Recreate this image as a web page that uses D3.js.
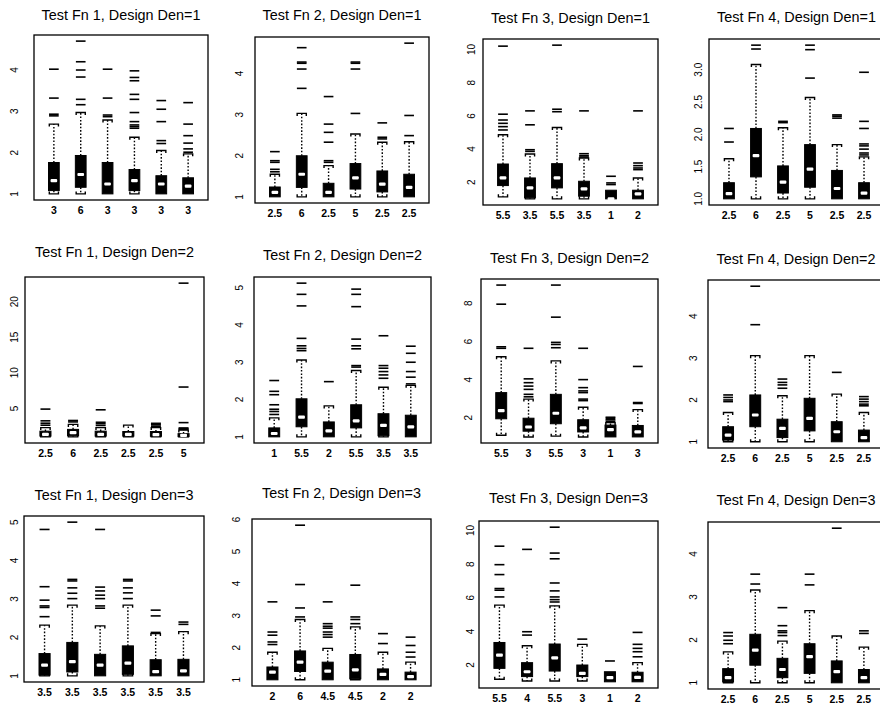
<!DOCTYPE html>
<html>
<head>
<meta charset="utf-8">
<script src="https://cdn.jsdelivr.net/npm/d3@7"></script>
<style>
  body { margin: 0; background: #fff; }
  text { font-family: "Liberation Sans", Arial, Helvetica, sans-serif; fill: #000; }
</style>
</head>
<body>
<svg id="chart" width="880" height="704"></svg>
<script>
// Panel titles, row by row (design density 1..3), columns = test functions 1..4
const titles = [
  "Test Fn 1, Design Den=1", "Test Fn 2, Design Den=1", "Test Fn 3, Design Den=1", "Test Fn 4, Design Den=1",
  "Test Fn 1, Design Den=2", "Test Fn 2, Design Den=2", "Test Fn 3, Design Den=2", "Test Fn 4, Design Den=2",
  "Test Fn 1, Design Den=3", "Test Fn 2, Design Den=3", "Test Fn 3, Design Den=3", "Test Fn 4, Design Den=3"
];

// Box labels along each x axis
const labelsF1D1 = ["3", "6", "3", "3", "3", "3"];
const labelsF2D1 = ["2.5", "6", "2.5", "5", "2.5", "2.5"];
const labelsF3D1 = ["5.5", "3.5", "5.5", "3.5", "1", "2"];
const labelsF4D1 = ["2.5", "6", "2.5", "5", "2.5", "2.5"];
const labelsF1D2 = ["2.5", "6", "2.5", "2.5", "2.5", "5"];
const labelsF2D2 = ["1", "5.5", "2", "5.5", "3.5", "3.5"];
const labelsF3D2 = ["5.5", "3", "5.5", "3", "1", "3"];
const labelsF4D2 = ["2.5", "6", "2.5", "5", "2.5", "2.5"];
const labelsF1D3 = ["3.5", "3.5", "3.5", "3.5", "3.5", "3.5"];
const labelsF2D3 = ["2", "6", "4.5", "4.5", "2", "2"];
const labelsF3D3 = ["5.5", "4", "5.5", "3", "1", "2"];
const labelsF4D3 = ["2.5", "6", "2.5", "5", "2.5", "2.5"];

// Five-number summaries per box: [lower whisker, Q1, median, Q3, upper whisker]
const statsF1D1 = [[1.0,1.08,1.32,1.76,2.69],[1.0,1.16,1.47,1.93,2.97],[1.0,1.0,1.24,1.76,2.79],[1.0,1.08,1.32,1.59,2.37],[1.0,1.0,1.24,1.44,2.05],[1.0,1.0,1.19,1.39,1.97]];
const statsF2D1 = [[1.0,1.0,1.11,1.24,1.55],[1.0,1.23,1.55,2.0,3.03],[1.0,1.0,1.11,1.33,1.76],[1.0,1.19,1.46,1.81,2.53],[1.0,1.12,1.31,1.63,2.33],[1.0,1.0,1.23,1.55,2.34]];
const statsF3D1 = [[1.12,1.8,2.26,3.1,4.86],[1.0,1.06,1.66,2.26,3.7],[1.0,1.66,2.26,3.12,5.3],[1.0,1.16,1.6,2.06,3.46],[1.0,1.0,1.0,1.52,1.52],[1.0,1.0,1.3,1.52,2.26]];
const statsF4D1 = [[1.0,1.0,1.08,1.25,1.62],[1.0,1.34,1.67,2.09,3.08],[1.0,1.09,1.26,1.51,2.1],[1.0,1.18,1.46,1.84,2.57],[1.0,1.0,1.16,1.44,1.84],[1.0,1.0,1.09,1.25,1.65]];
const statsF1D2 = [[1.0,1.1,1.35,1.8,2.3],[1.0,1.15,1.6,2.05,2.75],[1.0,1.1,1.35,1.8,2.3],[1.0,1.1,1.35,1.75,2.65],[1.0,1.08,1.3,1.75,2.3],[1.0,1.03,1.2,1.45,1.95]];
const statsF2D2 = [[1.0,1.0,1.09,1.24,1.51],[1.0,1.27,1.53,2.02,3.06],[1.0,1.0,1.16,1.4,1.83],[1.0,1.24,1.43,1.86,2.78],[1.0,1.03,1.31,1.62,2.33],[1.0,1.0,1.27,1.58,2.38]];
const statsF3D2 = [[1.09,1.95,2.38,3.32,5.2],[1.0,1.3,1.52,1.98,2.98],[1.04,1.69,2.24,3.23,4.98],[1.0,1.26,1.47,1.9,2.55],[1.0,1.0,1.38,1.62,1.75],[1.0,1.0,1.26,1.6,2.43]];
const statsF4D2 = [[1.0,1.04,1.16,1.36,1.7],[1.0,1.36,1.64,2.12,3.06],[1.0,1.1,1.32,1.54,2.1],[1.0,1.26,1.56,2.04,3.06],[1.0,1.0,1.24,1.48,2.14],[1.0,1.0,1.1,1.28,1.7]];
const statsF1D3 = [[1.0,1.02,1.28,1.58,2.32],[1.0,1.1,1.37,1.87,2.84],[1.0,1.0,1.28,1.56,2.3],[1.0,1.04,1.33,1.78,2.84],[1.0,1.0,1.11,1.42,2.1],[1.0,1.0,1.13,1.43,2.15]];
const statsF2D3 = [[1.0,1.0,1.24,1.4,1.86],[1.0,1.26,1.55,1.9,2.88],[1.0,1.0,1.27,1.55,1.98],[1.0,1.03,1.31,1.79,2.65],[1.0,1.0,1.17,1.34,1.86],[1.0,1.0,1.1,1.24,1.55]];
const statsF3D3 = [[1.15,1.8,2.59,3.34,5.56],[1.05,1.31,1.6,2.14,3.15],[1.05,1.64,2.43,3.25,5.52],[1.05,1.31,1.5,2.0,3.23],[1.0,1.0,1.25,1.6,1.6],[1.0,1.0,1.27,1.57,2.14]];
const statsF4D3 = [[1.0,1.02,1.12,1.33,1.72],[1.0,1.41,1.76,2.13,3.16],[1.0,1.12,1.31,1.57,1.97],[1.0,1.22,1.61,1.91,2.68],[1.0,1.0,1.26,1.51,2.09],[1.0,1.0,1.12,1.31,1.83]];

// Outlying values beyond the whiskers, per box
const outF1D1 = [[4.02,3.32,2.93,2.89],[4.70,4.20,4.00,3.83,3.29,3.16],[4.02,3.32,2.91,2.87],[3.98,3.82,3.74,3.41,3.29,2.97,2.75,2.67,2.63,2.59],[3.26,3.05,2.75,2.29,2.22],[3.21,2.69,2.41,2.23,2.09,2.01]];
const outF2D1 = [[2.10,1.88,1.84,1.67,1.61],[4.63,4.28,4.25,4.11,3.64],[3.44,2.77,2.57,2.33,1.88,1.84],[4.28,4.25,4.11,3.03],[2.80,2.45,2.41],[4.74,2.98,2.49]];
const outF3D1 = [[10.2,6.1,5.75,5.55,5.35,5.15],[6.3,5.46,3.96,3.86],[10.26,6.4,6.25],[6.3,3.72,3.6,3.52],[2.36,1.96,1.86],[6.3,3.16,3.0,2.86,2.76]];
const outF4D1 = [[2.09,1.88],[3.38,3.32],[2.2,2.18],[3.38,3.31,2.87],[2.3,2.28,2.25],[2.96,2.2,2.09,1.85,1.82,1.77,1.71,1.68]];
const outF1D2 = [[2.64,2.92,3.25,4.9],[3.1,3.3],[2.6,2.85,3.05,4.8],[],[2.5,2.7,2.9],[2.05,2.15,2.25,3.0,8.0,22.6]];
const outF2D2 = [[2.51,2.22,2.13,1.86,1.74,1.68,1.6],[5.12,4.82,4.51,3.64,3.44,3.37,3.31],[2.48],[4.96,4.82,4.49,3.62,3.44,3.36,2.91,2.87],[3.71,2.91,2.84,2.75,2.66,2.57],[3.43,3.24,3.0,2.75,2.6,2.42]];
const outF3D2 = [[8.95,7.95,5.72,5.64],[5.64,4.04,3.84,3.66,3.49,3.23,3.1],[8.95,7.27,5.95,5.84,5.67],[5.64,4.0,3.58,3.41,3.32,2.98,2.9],[1.82,1.9,1.97,2.03],[4.69,2.8,2.75]];
const outF4D2 = [[2.12,2.06,2.0,1.96],[4.72,3.8],[2.5,2.42,2.36,2.28],[],[2.66],[2.08,2.02,1.96,1.9,1.86]];
const outF1D3 = [[4.81,3.32,2.97,2.82,2.78,2.54],[5.0,3.51,3.47,3.29,3.15,3.01],[4.81,3.31,3.21,3.1,3.01,2.82,2.76],[3.51,3.47,3.29,3.16,3.01],[2.71,2.56,2.13],[2.4,2.34]];
const outF2D3 = [[3.43,2.49,2.39,2.18,2.1],[5.82,3.97,3.24,2.96],[3.43,2.75,2.67,2.61,2.49,2.41,2.33],[3.95,2.96,2.88,2.75],[2.44,2.13],[2.33,2.07,1.86,1.71]];
const outF3D3 = [[9.07,7.97,7.38,6.55,6.45,6.05],[8.88,3.98,3.78],[10.2,8.66,8.32,6.88,6.41,6.05,5.89,5.75],[3.54],[2.24],[3.94,3.23,2.99,2.79,2.49]];
const outF4D3 = [[2.17,2.09,1.99,1.91],[3.53,3.3],[2.75,2.33,2.21,2.17,2.1],[3.53,3.28],[4.6],[2.21,2.15]];

// Assemble panels in reading order
const panelLabels = [labelsF1D1, labelsF2D1, labelsF3D1, labelsF4D1, labelsF1D2, labelsF2D2, labelsF3D2, labelsF4D2, labelsF1D3, labelsF2D3, labelsF3D3, labelsF4D3];
const panelStats = [statsF1D1, statsF2D1, statsF3D1, statsF4D1, statsF1D2, statsF2D2, statsF3D2, statsF4D2, statsF1D3, statsF2D3, statsF3D3, statsF4D3];
const panelOut = [outF1D1, outF2D1, outF3D1, outF4D1, outF1D2, outF2D2, outF3D2, outF4D2, outF1D3, outF2D3, outF3D3, outF4D3];

// Plot frames [x0, y0, x1, y1], title baselines, y-label column centres
const frames = [
  [34, 35, 208, 200], [255, 37, 429, 203], [483, 39, 658, 205], [709, 39, 884, 205],
  [25, 277, 204, 443], [254, 277, 431, 443], [481, 279, 658, 443], [708, 280, 884, 448],
  [24, 516, 204, 682], [252, 519, 431, 686], [479, 521, 658, 688], [708, 522, 884, 689]
];
const titleY = [20, 20, 23, 22, 257, 260, 263, 264, 500, 498, 503, 505];
const yLabelX = [14, 239, 471, 698, 14, 239, 468, 693, 14, 236, 470, 693];

const svg = d3.select("#chart");

panelStats.forEach((stats, p) => {
  const [x0, y0, x1, y1] = frames[p];
  const outs = panelOut[p];
  const labs = panelLabels[p];
  const n = stats.length;
  const g = svg.append("g");

  // y range from every value, padded 4% each side
  const allVals = stats.flat().concat(outs.flat());
  const lo = d3.min(allVals), hi = d3.max(allVals);
  const pad = (hi - lo) * 0.04;
  const y = d3.scaleLinear().domain([lo - pad, hi + pad]).range([y1, y0]);

  const xpad = n * 0.04;
  const x = d3.scaleLinear().domain([0.5 - xpad, n + 0.5 + xpad]).range([x0, x1]);
  const bw = (x(1.4) - x(1)); // box width
  const half = bw / 2;

  g.append("text")
    .attr("x", Math.min((x0 + x1) / 2, 797)).attr("y", titleY[p])
    .attr("text-anchor", "middle")
    .style("font-size", "14.4px")
    .text(titles[p]);

  // y tick labels, written along the axis
  const ticks = y.ticks(5);
  const fmt = y.tickFormat(5);
  g.selectAll(".ylab").data(ticks).enter().append("text")
    .attr("transform", d => `translate(${yLabelX[p] + 4},${y(d)}) rotate(-90)`)
    .attr("text-anchor", "middle")
    .style("font-size", "10px")
    .text(fmt);

  // x labels
  g.selectAll(".xlab").data(labs).enter().append("text")
    .attr("x", (d, i) => x(i + 1)).attr("y", y1 + 14)
    .attr("text-anchor", "middle")
    .style("font-size", "10.5px")
    .style("font-weight", "bold")
    .text(d => d);

  stats.forEach((s, i) => {
    const cx = x(i + 1);
    const [wl, q1, med, q3, wh] = s;
    const bg = g.append("g");

    // dotted whiskers with bracket caps
    if (wh > q3) {
      bg.append("line").attr("x1", cx).attr("x2", cx).attr("y1", y(q3)).attr("y2", y(wh))
        .attr("stroke", "#000").attr("stroke-width", 1.4).attr("stroke-dasharray", "1.6,1.8");
      bg.append("path")
        .attr("d", `M${cx - half * 0.85},${y(wh) + 2.5}V${y(wh)}H${cx + half * 0.85}V${y(wh) + 2.5}`)
        .attr("fill", "none").attr("stroke", "#000").attr("stroke-width", 1.4);
    }
    if (wl < q1) {
      bg.append("line").attr("x1", cx).attr("x2", cx).attr("y1", y(q1)).attr("y2", y(wl))
        .attr("stroke", "#000").attr("stroke-width", 1.4).attr("stroke-dasharray", "1.6,1.8");
      bg.append("path")
        .attr("d", `M${cx - half * 0.85},${y(wl) - 2.5}V${y(wl)}H${cx + half * 0.85}V${y(wl) - 2.5}`)
        .attr("fill", "none").attr("stroke", "#000").attr("stroke-width", 1.4);
    }

    // box
    bg.append("rect")
      .attr("x", cx - half).attr("width", bw)
      .attr("y", y(q3)).attr("height", Math.max(1, y(q1) - y(q3)))
      .attr("fill", "#000").attr("stroke", "#000").attr("stroke-width", 1);

    // median bar
    bg.append("rect")
      .attr("x", cx - half * 0.62).attr("width", bw * 0.62)
      .attr("y", y(med) - 1.6).attr("height", 3.2)
      .attr("rx", 1).attr("fill", "#fff");

    // outliers as short dashes
    bg.selectAll(".out").data(outs[i]).enter().append("line")
      .attr("x1", cx - half * 0.9).attr("x2", cx + half * 0.9)
      .attr("y1", d => y(d)).attr("y2", d => y(d))
      .attr("stroke", "#000").attr("stroke-width", 1.6);
  });

  // plot frame
  g.append("rect")
    .attr("x", x0).attr("y", y0).attr("width", x1 - x0).attr("height", y1 - y0)
    .attr("fill", "none").attr("stroke", "#000").attr("stroke-width", 1.3);
});
</script>
</body>
</html>
